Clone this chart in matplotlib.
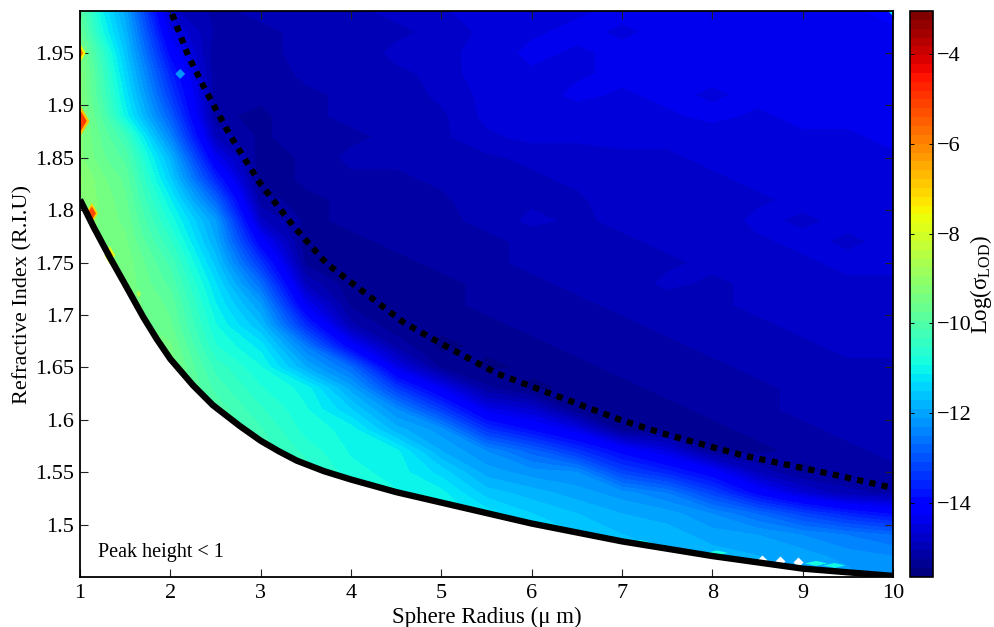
import numpy as np
import matplotlib
matplotlib.use("Agg")
import matplotlib.pyplot as plt
from matplotlib.patches import Polygon

plt.rcParams['font.family'] = ['Liberation Serif', 'DejaVu Serif']
plt.rcParams['mathtext.fontset'] = 'custom'
plt.rcParams['mathtext.rm'] = 'Liberation Serif'
plt.rcParams['mathtext.it'] = 'Liberation Serif'

radius = [1, 1.25, 1.5, 2, 2.5, 3, 3.5, 4, 4.5, 5, 5.5, 6, 6.5, 7, 7.5, 8, 8.5, 9, 9.5, 10]
index = [1.99, 1.97, 1.95, 1.93, 1.91, 1.89, 1.87, 1.85, 1.83, 1.81, 1.79, 1.77, 1.75, 1.73,
         1.71, 1.69, 1.67, 1.65, 1.63, 1.61, 1.59, 1.57, 1.55, 1.53, 1.51, 1.49, 1.47, 1.45]

# log(sigma) per radius column, listed from the top refractive index down
z_r1 = [-9.9, -9.7, -9.4, -9.3, -9.3, -9.3, -9.3, -9.3, -9.1, -9.2] + [-9.2] * 18
z_r125 = [-11.1, -10.9, -10.5, -10.3, -10.2, -10.0, -9.8, -9.7, -9.5] + [-9.4] * 19
z_r15 = [-12.0, -11.8, -11.6, -11.4, -11.2, -11.0, -10.3, -10.0, -9.8, -9.7, -9.6, -9.5, -9.4, -9.4] + [-9.4] * 14
z_r2 = [-14.8, -14.4, -14.0, -13.6, -13.3, -12.9, -12.4, -11.8, -11.5, -11.1, -10.8, -10.5, -10.2, -10.0,
        -9.8, -9.7, -9.5, -9.4] + [-9.4] * 10
z_r25 = [-15.1, -15.1, -15.2, -15.2, -15.2, -15.2, -14.9, -14.3, -13.6, -12.8, -12.1, -11.9, -11.6, -11.3,
         -11.1, -10.9, -10.7, -10.4, -10.2, -10.0] + [-9.8] * 8
z_r3 = [-15.0, -15.1, -15.1, -15.2, -15.2, -15.3, -15.3, -15.4, -15.4, -15.2, -14.8, -14.1, -13.4, -12.7,
        -12.1, -11.7, -11.2, -10.9, -10.7, -10.5, -10.3, -10.2] + [-10.2] * 6
z_r35 = [-14.9, -15.0, -15.0, -15.0, -15.1, -15.1, -15.1, -15.2, -15.2, -15.3, -15.3, -15.4, -15.3, -14.9,
         -14.3, -13.5, -12.5, -11.9, -11.0, -10.9, -10.8, -10.6, -10.4] + [-10.4] * 5
z_r4 = [-14.9, -14.9, -15.0, -14.9, -15.0, -15.0, -15.1, -15.0, -15.1, -15.2, -15.2, -15.3, -15.4, -15.4,
        -15.3, -15.0, -14.1, -12.7, -12.0, -11.5, -11.0, -10.95, -10.85, -10.7] + [-10.7] * 4
z_r45 = [-14.8, -14.9, -14.8, -14.9, -15.0, -14.9, -15.0, -15.0, -15.1, -15.1, -15.2, -15.2, -15.3, -15.3,
         -15.4, -15.4, -15.1, -14.4, -13.3, -12.3, -11.8, -11.05, -11.0, -10.9] + [-10.9] * 4
z_r5 = [-14.7, -14.8, -14.7, -14.8, -14.8, -14.9, -14.9, -15.0, -15.0, -15.1, -15.1, -15.2, -15.2, -15.3,
        -15.3, -15.4, -15.5, -15.3, -14.3, -13.3, -12.2, -11.9, -11.4, -11.05] + [-11.0] * 4
z_r55 = [-14.5, -14.6, -14.6, -14.5, -14.6, -14.6, -14.7, -14.9, -15.0, -14.9, -15.0, -15.1, -15.1, -15.2,
         -15.2, -15.3, -15.4, -15.5, -15.2, -14.4, -13.4, -12.3, -12.0, -11.6, -11.2, -11.1, -11.1, -11.1]
z_r6 = [-14.5, -14.5, -14.4, -14.5, -14.6, -14.5, -14.6, -14.8, -14.9, -14.9, -14.8, -15.0, -15.0, -15.1,
        -15.1, -15.2, -15.3, -15.4, -15.5, -14.7, -13.9, -12.8, -12.2, -11.8, -11.5, -11.4, -11.3, -11.3]
z_r65 = [-14.5, -14.4, -14.5, -14.5, -14.4, -14.6, -14.6, -14.8, -14.8, -14.9, -14.9, -14.9, -15.0, -15.0,
         -15.1, -15.2, -15.2, -15.3, -15.4, -15.4, -14.4, -13.4, -12.3, -12.0, -11.7, -11.5, -11.4, -11.4]
z_r7 = [-14.4, -14.5, -14.4, -14.4, -14.5, -14.5, -14.6, -14.7, -14.8, -14.7, -14.8, -14.9, -14.9, -15.0,
        -15.0, -15.1, -15.1, -15.2, -15.3, -15.4, -15.3, -14.0, -13.2, -12.2, -11.9, -11.7, -11.6, -11.6]
z_r75 = [-14.4, -14.4, -14.3, -14.4, -14.4, -14.5, -14.6, -14.7, -14.7, -14.8, -14.7, -14.8, -14.9, -14.8,
         -15.0, -15.0, -15.1, -15.1, -15.2, -15.3, -15.4, -14.5, -13.6, -12.5, -12.0, -11.8, -11.7, -11.7]
z_r8 = [-14.4, -14.3, -14.4, -14.4, -14.5, -14.4, -14.6, -14.6, -14.7, -14.7, -14.8, -14.7, -14.8, -14.9,
        -14.9, -15.0, -15.0, -15.1, -15.1, -15.2, -15.3, -15.3, -14.1, -13.2, -12.3, -12.0, -11.8, -11.7]
z_r85 = [-14.4, -14.4, -14.4, -14.3, -14.4, -14.5, -14.5, -14.6, -14.6, -14.7, -14.6, -14.7, -14.7, -14.8,
         -14.8, -14.9, -15.0, -15.0, -15.1, -15.1, -15.2, -15.3, -14.9, -14.0, -12.7, -12.1, -11.9, -11.8]
z_r9 = [-14.3, -14.4, -14.3, -14.4, -14.4, -14.4, -14.5, -14.6, -14.6, -14.6, -14.7, -14.6, -14.7, -14.8,
        -14.7, -14.8, -14.9, -14.9, -15.0, -15.0, -15.1, -15.2, -15.3, -14.6, -13.2, -12.3, -12.0, -11.9]
z_r95 = [-14.3, -14.3, -14.4, -14.3, -14.4, -14.4, -14.5, -14.5, -14.6, -14.5, -14.6, -14.7, -14.6, -14.7,
         -14.8, -14.8, -14.8, -14.9, -14.9, -15.0, -15.0, -15.1, -15.2, -15.0, -13.6, -12.5, -12.2, -12.0]
z_r10 = [-14.2, -14.3, -14.3, -14.3, -14.3, -14.4, -14.4, -14.5, -14.5, -14.6, -14.5, -14.6, -14.6, -14.7,
         -14.7, -14.8, -14.8, -14.9, -14.9, -14.9, -15.0, -15.0, -15.1, -15.1, -13.9, -12.7, -12.3, -12.3]
z_columns = [z_r1, z_r125, z_r15, z_r2, z_r25, z_r3, z_r35, z_r4, z_r45, z_r5, z_r55, z_r6, z_r65, z_r7,
             z_r75, z_r8, z_r85, z_r9, z_r95, z_r10]

solid_r = [1, 1.15, 1.33, 1.5, 1.7, 1.85, 2, 2.25, 2.47, 2.77, 3, 3.2, 3.4, 3.7, 4, 4.5, 5, 5.65, 6, 7, 8, 9, 10]
solid_n = [1.81, 1.784, 1.755, 1.729, 1.698, 1.677, 1.658, 1.633, 1.614, 1.594, 1.58, 1.57, 1.561, 1.551,
           1.543, 1.531, 1.521, 1.508, 1.501, 1.484, 1.47, 1.458, 1.451]
dotted_r = [2.02, 2.2, 2.38, 2.67, 2.99, 3.36, 3.73, 4.58, 4.99, 5.62, 6.98, 7.45, 8.34, 9.38, 10]
dotted_n = [1.987, 1.947, 1.916, 1.87, 1.826, 1.785, 1.749, 1.693, 1.673, 1.644, 1.60, 1.587, 1.566, 1.547, 1.535]

outer_r = [1.0, 1.0, 1.13, 1.33, 1.65]
outer_n = [1.95, 1.885, 1.797, 1.757, 1.72]
outer_z = [-7.5, -6.8, -7.0, -7.8, -8.5]
outer_s = [90, 260, 110, 85, 14]
inner_r = [1.0, 1.0, 1.13, 1.33]
inner_n = [1.95, 1.885, 1.797, 1.757]
inner_z = [-5.8, -5.0, -5.2, -6.6]
inner_s = [30, 130, 50, 30]
blip_r = [2.11, 10.0]
blip_n = [1.93, 1.99]
blip_z = [-12.2, -11.2]
near_r = [7.2, 8.05, 9.15, 9.35]
near_n = [1.483, 1.473, 1.463, 1.461]
near_z = [-11.0, -10.9, -10.9, -11.0]
hole_r = [8.55, 8.75, 8.95]
hole_n = [1.466, 1.465, 1.464]

x_ticks = [1, 2, 3, 4, 5, 6, 7, 8, 9, 10]
y_ticks = [1.5, 1.55, 1.6, 1.65, 1.7, 1.75, 1.8, 1.85, 1.9, 1.95]
y_labels = ['1.5', '1.55', '1.6', '1.65', '1.7', '1.75', '1.8', '1.85', '1.9', '1.95']
c_ticks = [-14, -12, -10, -8, -6, -4]
z_min, z_max = -15.64, -3.05

W, H = 995, 627
fig = plt.figure(figsize=(W / 100, H / 100), dpi=100)
ax = fig.add_axes([80 / W, 1 - 577 / H, 813 / W, 566 / H])
cax = fig.add_axes([910 / W, 1 - 577 / H, 23 / W, 566 / H])

Z = np.array(z_columns).T
levels = np.linspace(z_min, z_max, 65)
cf = ax.contourf(radius, index, Z, levels=levels, cmap=plt.get_cmap('jet', 64), vmin=z_min, vmax=z_max)

region = Polygon(list(zip(solid_r, solid_n)) + [(10, 1.99), (1, 1.99)], closed=True, transform=ax.transData,
                 facecolor='none', edgecolor='none')
ax.add_patch(region)
cf.set_clip_path(region)

flat = [(-1, 0), (0, 0.22), (1, 0), (0, -0.22), (-1, 0)]
common = dict(cmap='jet', vmin=z_min, vmax=z_max, linewidths=0, zorder=2)
ax.scatter(near_r, near_n, c=near_z, marker=flat, s=260, **common)
ax.scatter(blip_r, blip_n, c=blip_z, marker='D', s=26, **common)
ax.scatter(outer_r, outer_n, c=outer_z, marker='d', s=outer_s, **common)
ax.scatter(inner_r, inner_n, c=inner_z, marker='d', s=inner_s, **common)
ax.scatter(hole_r, hole_n, c='white', s=26, marker='D', linewidths=0, zorder=2)

ax.plot(solid_r, solid_n, color='black', lw=4.6, solid_capstyle='butt', solid_joinstyle='round', zorder=3)
ax.plot(dotted_r, dotted_n, color='black', lw=4.5, linestyle=(0, (1, 1)), dash_capstyle='butt', zorder=3)

ax.set_xlim(1, 10)
ax.set_ylim(1.45, 1.99)
ax.set_xticks(x_ticks)
ax.set_yticks(y_ticks)
ax.set_yticklabels(y_labels)
ax.tick_params(direction='in', top=True, right=True, length=5.5, width=0.8, labelsize=16, pad=4, color='#222222')
ax.tick_params(axis='x', pad=5)
ax.set_xlabel('Sphere Radius (\u03bc m)', fontsize=16.5, labelpad=3)
ax.set_ylabel('Refractive Index (R.I.U)', fontsize=16, labelpad=2)
ax.text(1.2, 1.4735, 'Peak height < 1', fontsize=14.5, va='center', ha='left')
for s in ax.spines.values():
    s.set_linewidth(1.3)
    s.set_zorder(5)

cb = fig.colorbar(cf, cax=cax, ticks=c_ticks)
cb.ax.set_ylim(z_min, z_max)
cb.ax.set_yticklabels(['\u2212' + str(abs(t)) for t in c_ticks])
cb.ax.tick_params(direction='in', left=True, right=True, length=3, width=0.7, labelsize=16, pad=3)
cb.outline.set_linewidth(1.2)
cb.set_label('Log($\\mathrm{\\sigma_{LOD}}$)', fontsize=16.5, labelpad=-2.5)
cb.ax.yaxis.label.set_y(0.516)

fig.savefig('out.png', dpi=100)
